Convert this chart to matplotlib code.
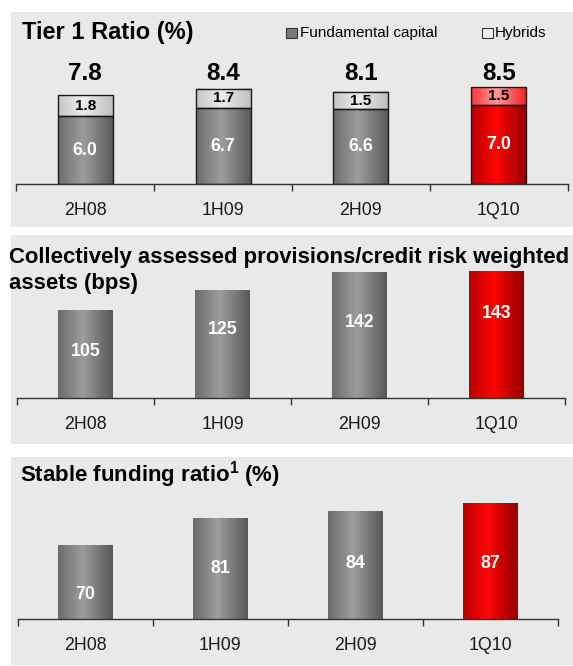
import matplotlib
matplotlib.use('Agg')
import matplotlib.pyplot as plt
import numpy as np
from matplotlib.patches import Rectangle
from matplotlib.colors import LinearSegmentedColormap

plt.rcParams['font.family'] = ['Liberation Sans', 'DejaVu Sans']
plt.rcParams['mathtext.fontset'] = 'custom'
plt.rcParams['mathtext.rm'] = 'Liberation Sans:bold'
plt.rcParams['mathtext.bf'] = 'Liberation Sans:bold'

# ---------------- data ----------------
categories = ['2H08', '1H09', '2H09', '1Q10']
fundamental = [6.0, 6.7, 6.6, 7.0]
hybrids = [1.8, 1.7, 1.5, 1.5]
provisions = [105, 125, 142, 143]
stable_funding = [70, 81, 84, 87]
highlight = [False, False, False, True]

# label positions (layout only)
prov_label_y = [65.4, 87.3, 94.1, 103.1]
sfr_label_y = [50.1, 60.7, 62.7, 62.7]

W, H = 573, 666
fig = plt.figure(figsize=(W / 100, H / 100), dpi=100)
fig.patch.set_facecolor('white')


def fx(x):
    return x / W


def fy(y):
    return 1 - y / H


def add_axes_px(x0, x1, ybase, height):
    return fig.add_axes([fx(x0), fy(ybase), (x1 - x0) / W, height / H])


# panel backgrounds
for top, bottom in [(12, 227), (235, 444), (457, 665)]:
    fig.add_artist(Rectangle((fx(11), fy(bottom)), (W - 11) / W, (bottom - top) / H,
                             transform=fig.transFigure, facecolor='#e9e9e9',
                             edgecolor='none', zorder=-5))

gray_cm = LinearSegmentedColormap.from_list('g', [(0, '#6c6c6c'), (0.45, '#9d9d9d'), (1, '#585858')])
red_cm = LinearSegmentedColormap.from_list('r', [(0, '#b80000'), (0.45, '#ff0505'), (1, '#920000')])
hgray_cm = LinearSegmentedColormap.from_list('hg', [(0, '#c4c4c4'), (0.45, '#eeeeee'), (1, '#bdbdbd')])
hred_cm = LinearSegmentedColormap.from_list('hr', [(0, '#ff3535'), (0.45, '#ff9a9a'), (1, '#ee2020')])


def grad_fill(ax, bars, cmaps):
    grad = np.linspace(0, 1, 256).reshape(1, -1)
    for bar, cm in zip(bars, cmaps):
        x, y = bar.get_x(), bar.get_y()
        w, h = bar.get_width(), bar.get_height()
        img = ax.imshow(grad, cmap=cm, extent=[x, x + w, y, y + h], aspect='auto',
                        origin='lower', interpolation='bilinear', zorder=1.9)
        img.set_clip_path(bar)
        img.set_clip_box(ax.bbox)


def style_axis(ax, ylim):
    ax.set_facecolor('none')
    for s in ['top', 'left', 'right']:
        ax.spines[s].set_visible(False)
    ax.spines['bottom'].set_color('#333333')
    ax.spines['bottom'].set_linewidth(1.0)
    ax.set_yticks([])
    ax.set_xlim(-0.5, len(categories) - 0.5)
    ax.set_ylim(*ylim)
    ax.set_xticks(range(len(categories)))
    ax.set_xticklabels(categories)
    ax.tick_params(axis='x', which='major', length=0, pad=13, labelsize=12.8,
                   labelcolor='#1a1a1a')
    ax.set_xticks(np.arange(-0.5, len(categories), 1), minor=True)
    ax.tick_params(axis='x', which='minor', length=5, width=1, color='#333333',
                   direction='out')


x = np.arange(len(categories))
bw = 0.4

# ---------------- panel 1: Tier 1 ratio ----------------
ax1 = add_axes_px(16.4, 567.6, 184.3, 114)
b_f = ax1.bar(x, fundamental, width=bw, facecolor='none', edgecolor='#1a1a1a', lw=1, zorder=2)
b_h = ax1.bar(x, hybrids, width=bw, bottom=fundamental, facecolor='none',
              edgecolor='#1a1a1a', lw=1, zorder=2)
grad_fill(ax1, b_f, [red_cm if h else gray_cm for h in highlight])
grad_fill(ax1, b_h, [hred_cm if h else hgray_cm for h in highlight])
style_axis(ax1, (0, 10))
for i in range(len(categories)):
    ax1.text(x[i], fundamental[i] / 2, f'{fundamental[i]:.1f}', ha='center', va='center',
             color='white', fontsize=12.8, fontweight='bold', zorder=3)
    ax1.text(x[i], fundamental[i] + hybrids[i] / 2, f'{hybrids[i]:.1f}', ha='center',
             va='center', color='black', fontsize=11, fontweight='bold', zorder=3)
    ax1.text(x[i], 9.76, f'{fundamental[i] + hybrids[i]:.1f}', ha='center', va='center',
             color='black', fontsize=17.5, fontweight='bold', zorder=3)

fig.text(fx(22), fy(33), 'Tier 1 Ratio (%)', fontsize=17, fontweight='bold',
         ha='left', va='center')
# legend
fig.add_artist(Rectangle((fx(286), fy(38.3)), 10.7 / W, 10 / H, transform=fig.transFigure,
                         facecolor='#7a7a7a', edgecolor='#333333', lw=0.8))
fig.text(fx(300), fy(33), 'Fundamental capital', fontsize=11, ha='left', va='center')
fig.add_artist(Rectangle((fx(482), fy(38.3)), 10.7 / W, 10 / H, transform=fig.transFigure,
                         facecolor='#eeeeee', edgecolor='#333333', lw=0.8))
fig.text(fx(495), fy(33), 'Hybrids', fontsize=11, ha='left', va='center')

# ---------------- panel 2: provisions ----------------
ax2 = add_axes_px(17.2, 565.4, 398.3, 143.6)
b2 = ax2.bar(x, provisions, width=bw, facecolor='none', edgecolor='none', zorder=2)
grad_fill(ax2, b2, [red_cm if h else gray_cm for h in highlight])
style_axis(ax2, (20, 160))
for i in range(len(categories)):
    ax2.text(x[i], prov_label_y[i], f'{provisions[i]}', ha='center', va='center',
             color='white', fontsize=12.8, fontweight='bold', zorder=3)
fig.text(fx(9), fy(257.5), 'Collectively assessed provisions/credit risk weighted',
         fontsize=15.9, fontweight='bold', ha='left', va='center')
fig.text(fx(9), fy(284), 'assets (bps)', fontsize=15.9, fontweight='bold',
         ha='left', va='center')

# ---------------- panel 3: stable funding ratio ----------------
ax3 = add_axes_px(17.5, 558, 619, 134.75)
b3 = ax3.bar(x, stable_funding, width=bw, facecolor='none', edgecolor='none', zorder=2)
grad_fill(ax3, b3, [red_cm if h else gray_cm for h in highlight])
style_axis(ax3, (40, 95))
for i in range(len(categories)):
    ax3.text(x[i], sfr_label_y[i], f'{stable_funding[i]}', ha='center', va='center',
             color='white', fontsize=12.8, fontweight='bold', zorder=3)
fig.text(fx(20), fy(475), r'Stable funding ratio$^{1}$ (%)', fontsize=16,
         fontweight='bold', ha='left', va='center')

fig.savefig('out.png', dpi=100, facecolor='white')
